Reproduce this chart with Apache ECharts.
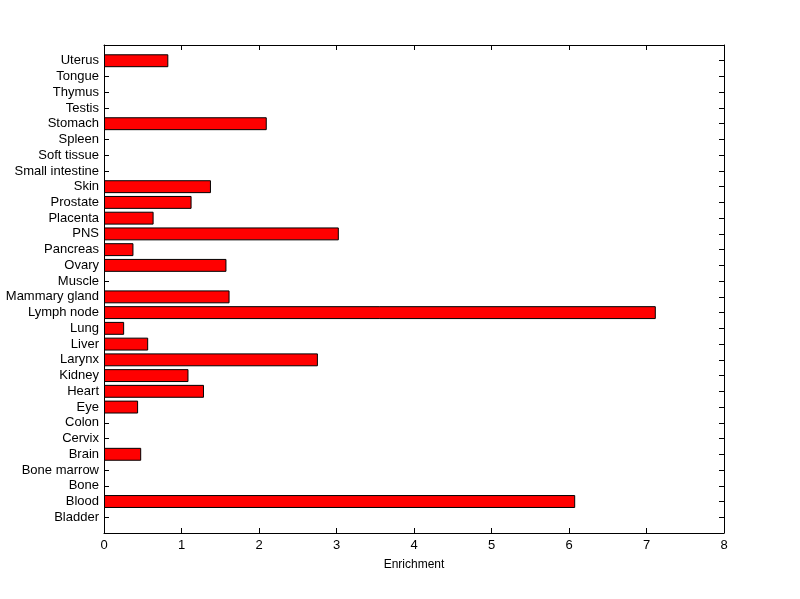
<!DOCTYPE html>
<html><head><meta charset="utf-8">
<script src="https://cdn.jsdelivr.net/npm/echarts@6/dist/echarts.min.js"></script>
<style>html,body{margin:0;padding:0;background:#fff}#c{width:800px;height:599px}</style>
</head><body><div id="c"></div>
<script>
const categories = ['Bladder','Blood','Bone','Bone marrow','Brain','Cervix','Colon','Eye','Heart','Kidney','Larynx','Liver','Lung','Lymph node','Mammary gland','Muscle','Ovary','Pancreas','PNS','Placenta','Prostate','Skin','Small intestine','Soft tissue','Spleen','Stomach','Testis','Thymus','Tongue','Uterus'];
const enrichment = [0,6.08,0,0,0.48,0,0,0.44,1.29,1.09,2.76,0.57,0.26,7.12,1.62,0,1.58,0.38,3.03,0.64,1.13,1.38,0,0,0,2.10,0,0,0,0.83];
const xTicks = [0,1,2,3,4,5,6,7,8];

const cats = [''].concat(categories, ['']);
const vals = [null].concat(enrichment.map(v => v > 0 ? v : null), [null]);
const font = 'Liberation Sans, Arial, sans-serif';
const lineStyle = {color:'#000', width:1};
const chart = echarts.init(document.getElementById('c'));
chart.setOption({
  animation:false,
  grid:{left:104, right:76, top:45, bottom:66, containLabel:false},
  xAxis:[{
    type:'value', min:xTicks[0], max:xTicks[xTicks.length-1], interval:1, position:'bottom',
    name:'Enrichment', nameLocation:'middle', nameGap:26,
    nameTextStyle:{color:'#000', fontSize:12, fontFamily:font},
    axisLine:{show:true, onZero:false, lineStyle}, axisTick:{show:true, inside:true, length:5, lineStyle},
    axisLabel:{color:'#000', fontSize:13, fontFamily:font, margin:6},
    splitLine:{show:false}
  },{
    type:'value', min:xTicks[0], max:xTicks[xTicks.length-1], interval:1, position:'top',
    axisLine:{show:true, onZero:false, lineStyle}, axisTick:{show:true, inside:true, length:5, lineStyle},
    axisLabel:{show:false}, splitLine:{show:false}
  }],
  yAxis:[{
    type:'category', data:cats, boundaryGap:false, position:'left',
    axisLine:{show:true, onZero:false, lineStyle}, axisTick:{show:true, inside:true, length:5, interval:0, lineStyle},
    axisLabel:{color:'#000', fontSize:13, fontFamily:font, interval:0, margin:5}
  },{
    type:'category', data:cats, boundaryGap:false, position:'right',
    axisLine:{show:true, onZero:false, lineStyle}, axisTick:{show:true, inside:true, length:5, interval:0, lineStyle},
    axisLabel:{show:false}
  }],
  series:[{
    type:'bar', data:vals, xAxisIndex:0, yAxisIndex:0, barWidth:'82%',
    itemStyle:{color:'#ff0000', borderColor:'#000', borderWidth:1}
  }]
});
</script></body></html>
